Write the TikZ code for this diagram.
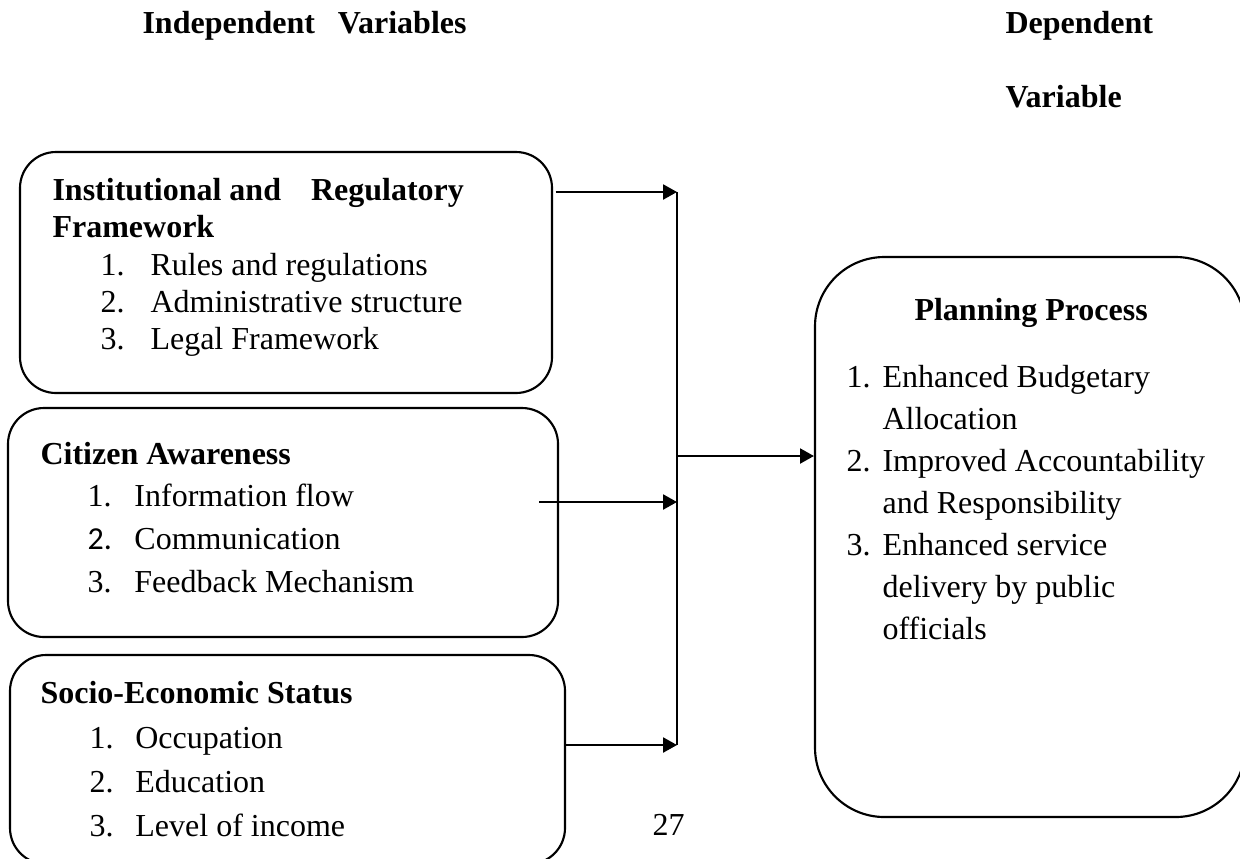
\documentclass[tikz,border=0pt,12pt]{standalone}
\usepackage{fontspec}
\setmainfont{Liberation Serif}
\newfontfamily\calib{Carlito}
\usepackage{tikz}
\usetikzlibrary{arrows.meta,positioning}

\begin{document}
\begin{tikzpicture}[
    x=0.375pt, y=-0.375pt,
    font=\fontsize{12}{14}\selectfont,
    box/.style={draw, line width=0.8pt, rounded corners=13.5pt, inner sep=0pt},
    bigbox/.style={draw, line width=0.8pt, rounded corners=26pt, inner sep=0pt},
    heading/.style={anchor=base west, inner sep=0pt, font=\fontsize{12}{14}\selectfont\bfseries},
    entry/.style={anchor=base west, inner sep=0pt},
    wire/.style={line width=0.8pt},
    link/.style={line width=0.8pt, -{Triangle[length=5.2pt,width=5.6pt]}}
]
\useasboundingbox (0,0) rectangle (1240,858);

% headings
\node[heading] (indep) at (142,33) {Independent\hspace{8.6pt}Variables};
\node[heading] (dep) at (1005,33) {Dependent};
\node[heading] (depvar) at (1005,107) {Variable};

% independent variable boxes
\node[box, minimum width=532*0.375pt, minimum height=241*0.375pt] (inst) at (286,272.5) {};
\node[box, minimum width=550*0.375pt, minimum height=229*0.375pt] (aware) at (283,522.5) {};
\node[box, minimum width=555*0.375pt, minimum height=209*0.375pt] (socio) at (287.5,759.5) {};

% dependent variable box
\node[bigbox, minimum width=430*0.375pt, minimum height=560*0.375pt] (plan) at (1030,537) {};

% box texts
\node[heading] (instT) at (52,200) {Institutional and\hspace{11.25pt}Regulatory};
\node[heading] (instF) at (52,237) {Framework};
\foreach \t [count=\i] in {Rules and regulations, Administrative structure, Legal Framework}
    \node[entry] (inst\i) at (100,238+37*\i) {\makebox[18.75pt][l]{\i.}\t};

\node[heading] (awareT) at (40,464) {Citizen Awareness};
\node[entry] (aware1) at (87,506) {\makebox[17.6pt][l]{1.}Information flow};
\node[entry] (aware2) at (87,549) {\makebox[17.6pt][l]{\calib 2.}Communication};
\node[entry] (aware3) at (87,592) {\makebox[17.6pt][l]{3.}Feedback Mechanism};

\node[heading] (socioT) at (40,703) {Socio-Economic Status};
\foreach \t [count=\i] in {Occupation, Education, Level of income}
    \node[entry] (socio\i) at (89,704+44*\i) {\makebox[17.2pt][l]{\i.}\t};

\node[heading] (planT) at (914,320) {Planning Process};
\node[entry] (plan1) at (846,387) {\makebox[13.5pt][l]{1.}Enhanced Budgetary};
\node[entry] (plan1b) at (882,429) {Allocation};
\node[entry] (plan2) at (846,471) {\makebox[13.5pt][l]{2.}Improved Accountability};
\node[entry] (plan2b) at (882,513) {and Responsibility};
\node[entry] (plan3) at (846,555) {\makebox[13.5pt][l]{3.}Enhanced service};
\node[entry] (plan3b) at (882,597) {delivery by public};
\node[entry] (plan3c) at (882,639) {officials};

% page number
\node[entry] (page) at (652,835) {27};

% connectors
\coordinate (bus1) at (677,192);
\coordinate (bus2) at (677,502);
\coordinate (bus3) at (677,745);
\coordinate (busout) at (677,456);
\coordinate (awareout) at (539,502);

\draw[wire] (bus1) -- (bus3);
\draw[link] ([xshift=1pt]inst.east |- bus1) -- (bus1);
\draw[link] (awareout) -- (bus2);
\draw[link] (socio.east |- bus3) -- (bus3);
\draw[link] (busout) -- (plan.west |- busout);

\end{tikzpicture}
\end{document}
